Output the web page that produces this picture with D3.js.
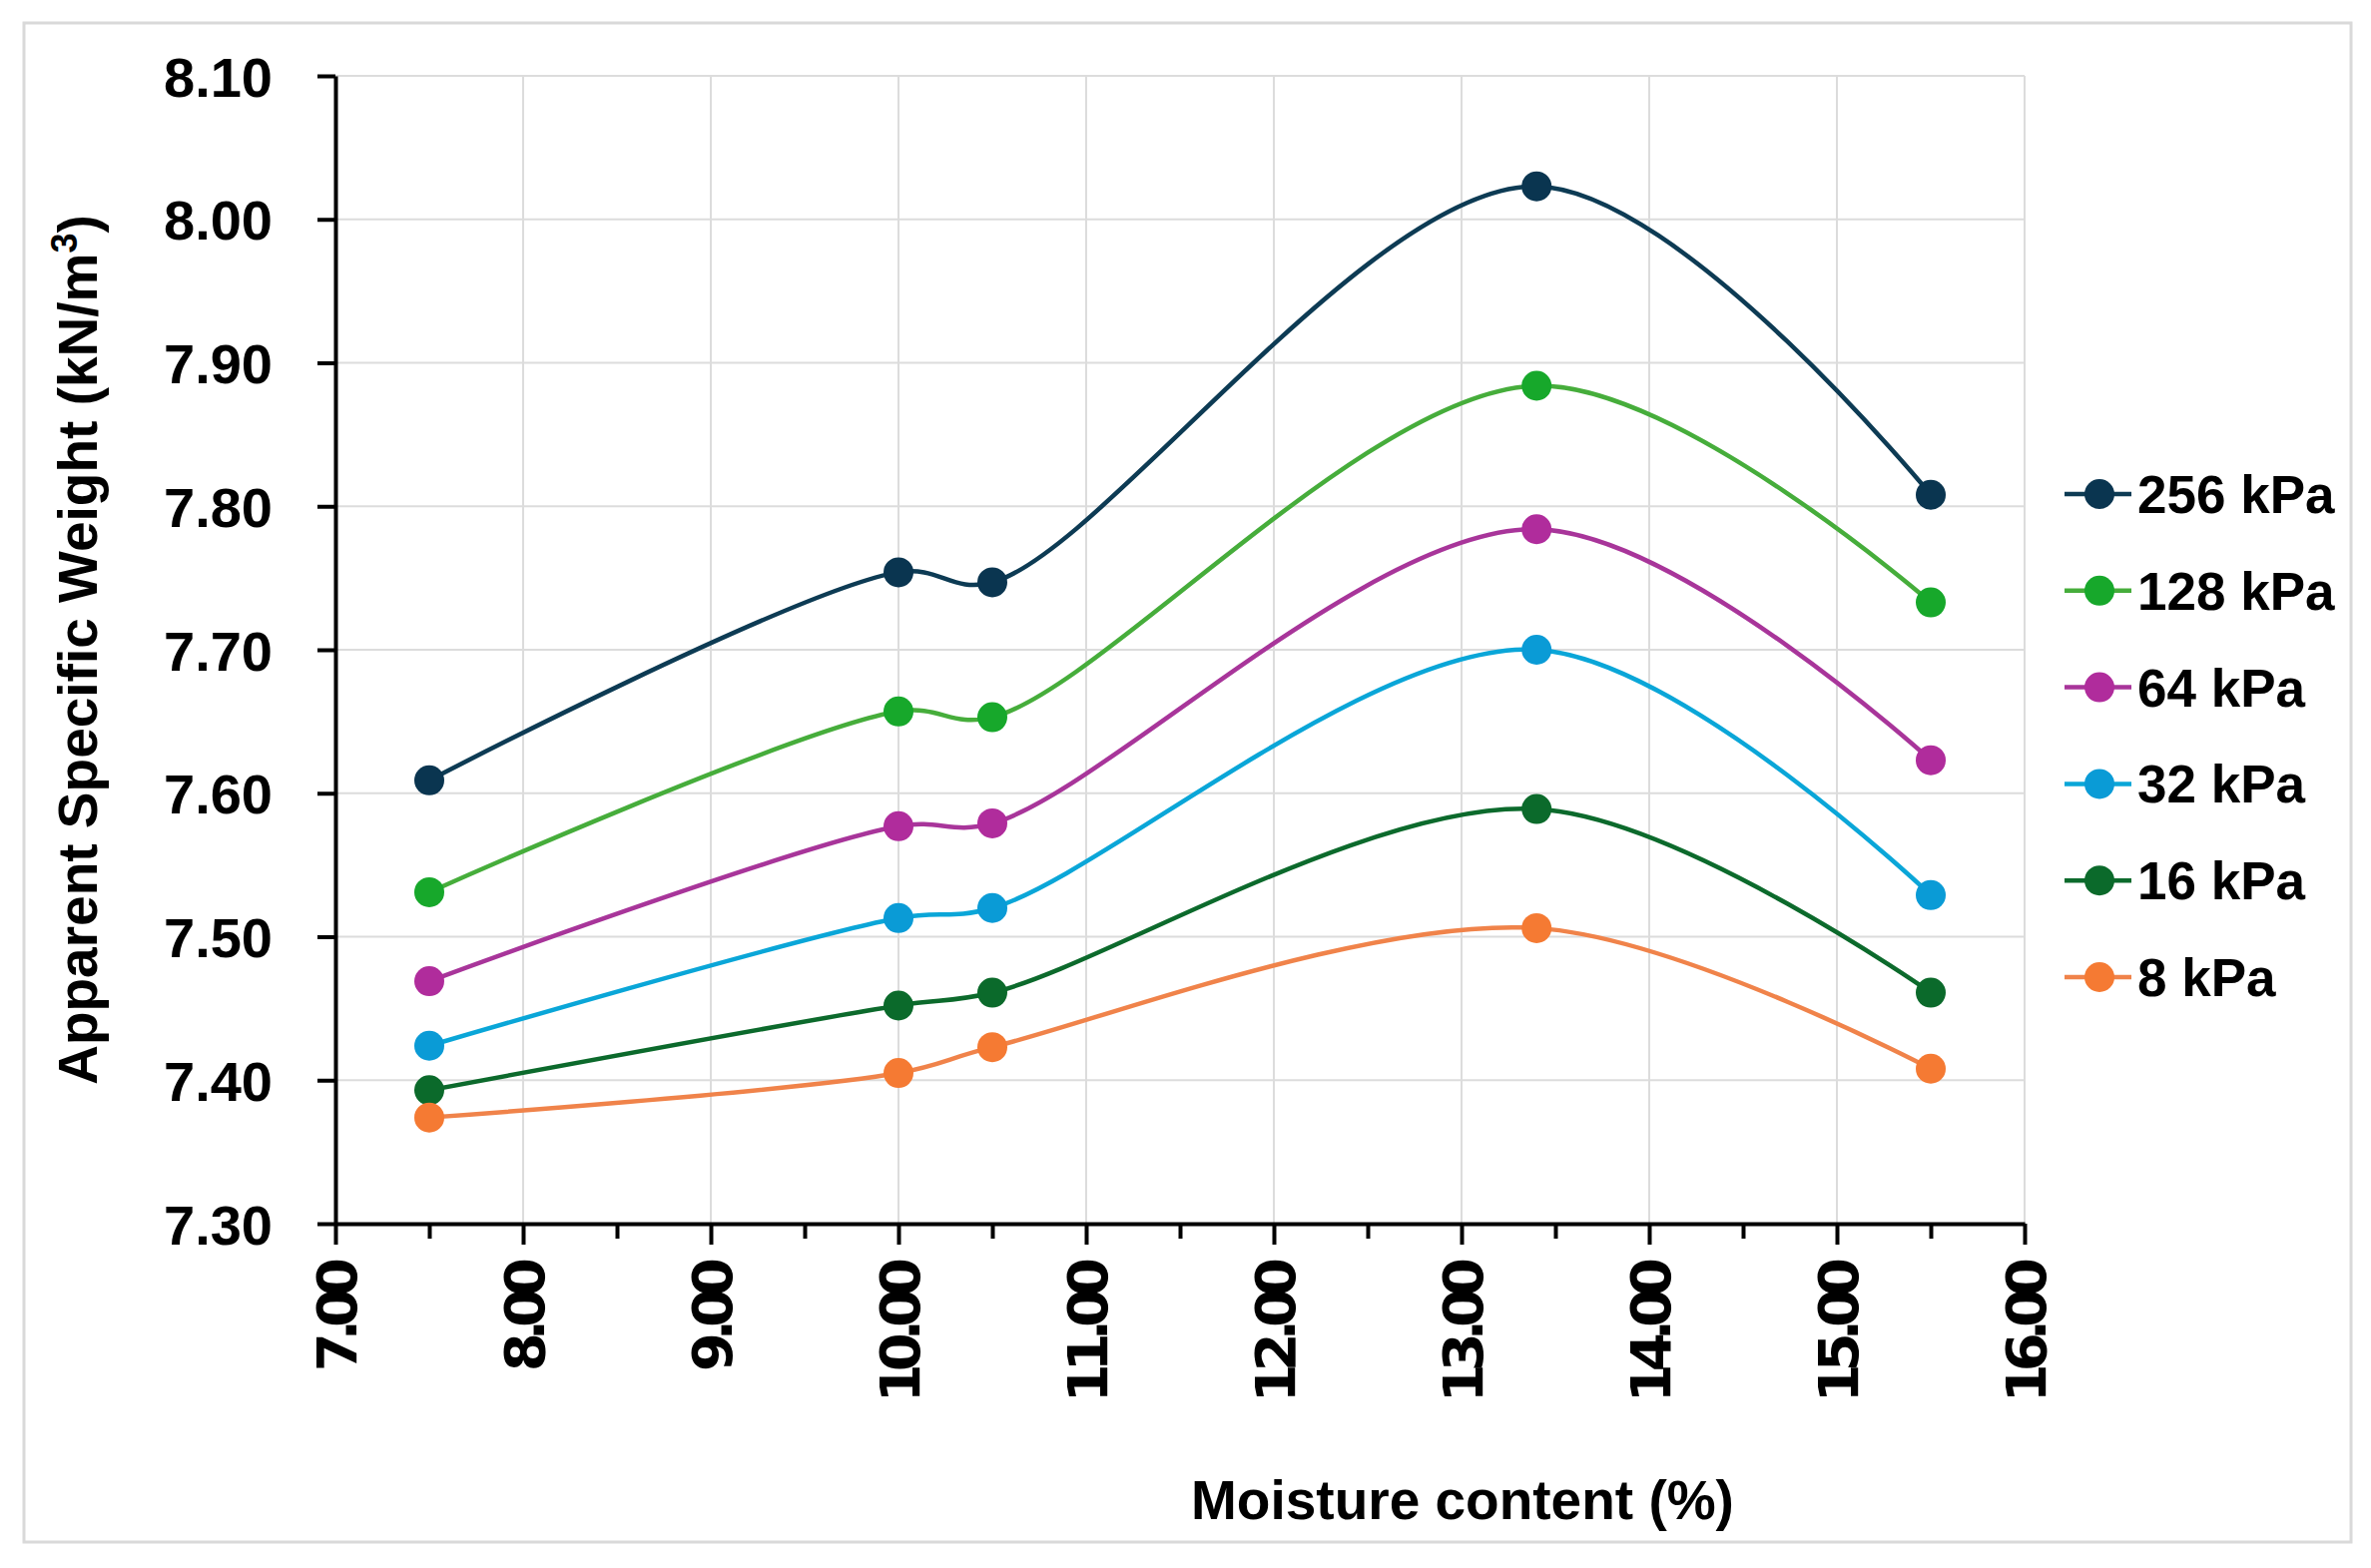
<!DOCTYPE html>
<html>
<head>
<meta charset="utf-8">
<script src="https://cdn.jsdelivr.net/npm/d3@7"></script>
<style>
  body { margin: 0; background: #fff; }
  svg { display: block; }
</style>
</head>
<body>
<div id="chart"></div>
<script>
// moisture content (%)
const moisture = [7.5, 10.0, 10.5, 13.4, 15.5];

// apparent specific weight (kN/m3) per compaction pressure
const kPa256 = [7.609, 7.754, 7.747, 8.023, 7.808];
const kPa128 = [7.531, 7.657, 7.653, 7.884, 7.733];
const kPa64 = [7.469, 7.577, 7.579, 7.784, 7.623];
const kPa32 = [7.424, 7.513, 7.520, 7.700, 7.529];
const kPa16 = [7.393, 7.452, 7.461, 7.589, 7.461];
const kPa8 = [7.374, 7.405, 7.423, 7.506, 7.408];

const seriesNames = ["256 kPa", "128 kPa", "64 kPa", "32 kPa", "16 kPa", "8 kPa"];
const seriesValues = [kPa256, kPa128, kPa64, kPa32, kPa16, kPa8];

const xTicks = [7, 8, 9, 10, 11, 12, 13, 14, 15, 16];
const xMinorTicks = [7.5, 8.5, 9.5, 10.5, 11.5, 12.5, 13.5, 14.5, 15.5];
const yTicks = [7.3, 7.4, 7.5, 7.6, 7.7, 7.8, 7.9, 8.0, 8.1];

let draw = () => {
  const width = 2375;
  const height = 1571;
  const lineColors = ["#0d3b54", "#46ad3b", "#a8359a", "#0aa6d8", "#0c6a2c", "#f0834a"];
  const dotColors = ["#0a3550", "#17a82b", "#b02c9c", "#0a9bd6", "#0b6a2b", "#f57a33"];
  const boldSans = "'Liberation Sans', Arial, sans-serif";

  const svg = d3
    .select("#chart")
    .append("svg")
    .attr("width", width)
    .attr("height", height);

  svg.append("rect")
    .attr("width", width)
    .attr("height", height)
    .attr("fill", "#fff");

  // outer frame
  svg.append("rect")
    .attr("x", 24)
    .attr("y", 23)
    .attr("width", 2331)
    .attr("height", 1522)
    .attr("fill", "none")
    .attr("stroke", "#d9d9d9")
    .attr("stroke-width", 3);

  const xScale = d3.scaleLinear().domain([7, 16]).range([336, 2028]);
  const yScale = d3.scaleLinear().domain([7.3, 8.1]).range([1226, 76]);

  // grid
  svg.append("g")
    .selectAll("line")
    .data(yTicks)
    .enter()
    .append("line")
    .attr("x1", xScale(7))
    .attr("x2", xScale(16))
    .attr("y1", (d) => yScale(d))
    .attr("y2", (d) => yScale(d))
    .attr("stroke", "#dcdcdc")
    .attr("stroke-width", 2);

  svg.append("g")
    .selectAll("line")
    .data(xTicks)
    .enter()
    .append("line")
    .attr("x1", (d) => xScale(d))
    .attr("x2", (d) => xScale(d))
    .attr("y1", yScale(8.1))
    .attr("y2", yScale(7.3))
    .attr("stroke", "#dcdcdc")
    .attr("stroke-width", 2);

  // minor x ticks
  svg.append("g")
    .attr("transform", `translate(0, ${yScale(7.3)})`)
    .call(d3.axisBottom(xScale).tickValues(xMinorTicks).tickSize(15).tickSizeOuter(0).tickFormat(""))
    .call((g) => g.select(".domain").remove())
    .call((g) => g.selectAll("line").attr("stroke", "#000").attr("stroke-width", 4));

  // major x ticks + labels
  svg.append("g")
    .attr("transform", `translate(0, ${yScale(7.3)})`)
    .call(d3.axisBottom(xScale).tickValues(xTicks).tickSize(21).tickSizeOuter(0).tickFormat(d3.format(".2f")))
    .call((g) => g.select(".domain").attr("stroke", "#000").attr("stroke-width", 4))
    .call((g) => g.selectAll("line").attr("stroke", "#000").attr("stroke-width", 4))
    .call((g) =>
      g.selectAll("text")
        .attr("transform", "rotate(-90)")
        .attr("x", -42)
        .attr("y", 0)
        .attr("dy", "0.36em")
        .attr("text-anchor", "end")
        .attr("fill", "#000")
        .style("font-family", "'DejaVu Sans', Verdana, sans-serif")
        .style("font-weight", "bold")
        .style("font-size", "56px")
        .style("letter-spacing", "-8px")
    );

  // y axis
  svg.append("g")
    .attr("transform", `translate(${xScale(7)}, 0)`)
    .call(d3.axisLeft(yScale).tickValues(yTicks).tickSize(18).tickSizeOuter(0).tickPadding(45).tickFormat(d3.format(".2f")))
    .call((g) => g.select(".domain").attr("stroke", "#000").attr("stroke-width", 4))
    .call((g) => g.selectAll("line").attr("stroke", "#000").attr("stroke-width", 4))
    .call((g) =>
      g.selectAll("text")
        .attr("dy", "0.36em")
        .attr("fill", "#000")
        .style("font-family", boldSans)
        .style("font-weight", "bold")
        .style("font-size", "56px")
    );

  // series
  const line = d3
    .line()
    .x((d) => xScale(d[0]))
    .y((d) => yScale(d[1]))
    .curve(d3.curveCatmullRom.alpha(0.5));

  seriesValues.forEach((vals, i) => {
    const pts = moisture.map((m, j) => [m, vals[j]]);
    svg.append("path")
      .datum(pts)
      .attr("d", line)
      .attr("fill", "none")
      .attr("stroke", lineColors[i])
      .attr("stroke-width", 4.5);
    svg.append("g")
      .selectAll("circle")
      .data(pts)
      .enter()
      .append("circle")
      .attr("cx", (d) => xScale(d[0]))
      .attr("cy", (d) => yScale(d[1]))
      .attr("r", 15)
      .attr("fill", dotColors[i]);
  });

  // legend
  const legend = svg.append("g");
  seriesNames.forEach((name, i) => {
    const ly = 495 + i * 96.8;
    legend.append("line")
      .attr("x1", 2068)
      .attr("x2", 2135)
      .attr("y1", ly)
      .attr("y2", ly)
      .attr("stroke", lineColors[i])
      .attr("stroke-width", 4.5);
    legend.append("circle")
      .attr("cx", 2103)
      .attr("cy", ly)
      .attr("r", 15)
      .attr("fill", dotColors[i]);
    legend.append("text")
      .attr("x", 2141)
      .attr("y", ly)
      .attr("dy", "0.36em")
      .style("font-family", boldSans)
      .style("font-weight", "bold")
      .style("font-size", "53px")
      .text(name);
  });

  // axis titles
  svg.append("text")
    .attr("x", 1465)
    .attr("y", 1522)
    .attr("text-anchor", "middle")
    .style("font-family", boldSans)
    .style("font-weight", "bold")
    .style("font-size", "55px")
    .text("Moisture content (%)");

  const yTitle = svg.append("text")
    .attr("transform", "translate(97, 651) rotate(-90)")
    .attr("text-anchor", "middle")
    .style("font-family", boldSans)
    .style("font-weight", "bold")
    .style("font-size", "55px");
  yTitle.append("tspan").text("Apparent Specific Weight (kN/m");
  yTitle.append("tspan").attr("dy", -20).style("font-size", "36px").text("3");
  yTitle.append("tspan").attr("dy", 20).text(")");
};

draw();
</script>
</body>
</html>
